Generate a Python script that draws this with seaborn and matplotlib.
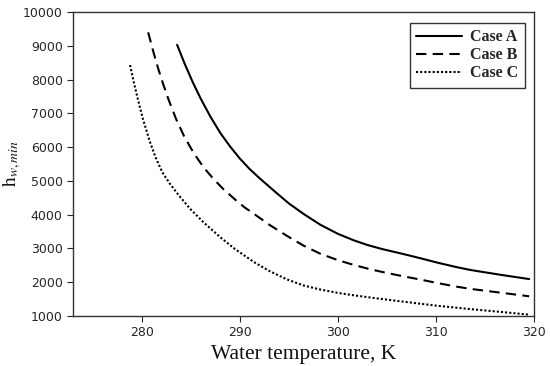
import pandas as pd
import matplotlib.pyplot as plt
import seaborn as sns

# --- data ---
temp_a = [283.6, 284.4, 285.2, 286.0, 287.0, 288.0, 289.0, 290.0, 291.0, 292.0, 293.5, 295.0,
          296.5, 298.2, 300.0, 301.6, 303.0, 304.5, 306.7, 308.5, 310.1, 312.0, 313.5, 316.5, 319.5]
hw_a = [9030, 8450, 7920, 7440, 6900, 6420, 6020, 5660, 5350, 5080, 4700, 4330,
        4020, 3700, 3430, 3240, 3100, 2980, 2830, 2700, 2580, 2450, 2360, 2220, 2090]

temp_b = [280.65, 281.2, 281.7, 282.2, 282.7, 283.5, 284.3, 285.3, 286.3, 287.3, 288.3, 289.5,
          290.5, 291.5, 293.0, 294.8, 296.5, 298.2, 300.0, 301.6, 303.3, 305.0, 306.7, 308.5,
          310.1, 312.0, 313.5, 316.5, 319.5]
hw_b = [9400, 8800, 8300, 7850, 7430, 6830, 6330, 5820, 5400, 5060, 4760, 4450,
        4210, 4010, 3700, 3370, 3080, 2840, 2650, 2510, 2380, 2270, 2170, 2070,
        1975, 1870, 1800, 1690, 1580]

temp_c = [278.8, 279.2, 279.6, 280.1, 280.8, 281.4, 282.1, 282.9, 283.8, 285.0, 286.3, 288.0,
          289.5, 291.4, 293.0, 294.8, 296.5, 298.2, 300.0, 301.6, 303.9, 306.7, 310.1, 313.5,
          316.5, 319.5]
hw_c = [8430, 7900, 7420, 6850, 6180, 5700, 5250, 4900, 4560, 4150, 3770, 3330,
        2980, 2600, 2330, 2080, 1900, 1780, 1680, 1610, 1520, 1420, 1300, 1200,
        1120, 1035]

cases = ["Case A", "Case B", "Case C"]
styles = {"Case A": "-", "Case B": (0, (5, 3)), "Case C": (0, (1, 1))}

df = pd.concat([
    pd.DataFrame({"T": temp_a, "h": hw_a, "case": "Case A"}),
    pd.DataFrame({"T": temp_b, "h": hw_b, "case": "Case B"}),
    pd.DataFrame({"T": temp_c, "h": hw_c, "case": "Case C"}),
])

sns.set_style("ticks")
plt.rcParams['mathtext.fontset'] = 'stix'

fig, ax = plt.subplots(figsize=(5.5, 3.66), dpi=100)
for c in cases:
    sns.lineplot(data=df[df["case"] == c], x="T", y="h", ax=ax, color="black",
                 linestyle=styles[c], linewidth=1.5, label=c, sort=False)

ax.set_xlim(273, 320)
ax.set_ylim(1000, 10000)
ax.set_xticks([280, 290, 300, 310, 320])
ax.set_yticks(range(1000, 10001, 1000))
ax.tick_params(labelsize=9, colors="#262626", length=4)
for s in ax.spines.values():
    s.set_visible(True)
    s.set_color("#333333")
    s.set_linewidth(1.0)

ax.set_xlabel("Water temperature, K", family="Liberation Serif", fontsize=15.5, color="#111111")
ax.set_ylabel(r"$\mathrm{h}_{w,min}$", fontsize=14, color="#111111")
ax.yaxis.set_label_coords(-0.108, 0.5)

leg = ax.legend(loc="upper right", bbox_to_anchor=(0.98, 0.964), borderaxespad=0,
                frameon=True, fancybox=False, edgecolor="black", handlelength=2.9,
                borderpad=0.4, labelspacing=0.12, handletextpad=0.5,
                prop={"family": "Liberation Serif", "weight": "bold", "size": 11.5})
leg.get_frame().set_linewidth(1.0)

plt.subplots_adjust(left=0.133, right=0.971, top=0.967, bottom=0.137)
plt.savefig("out.png", dpi=100)
plt.close()
